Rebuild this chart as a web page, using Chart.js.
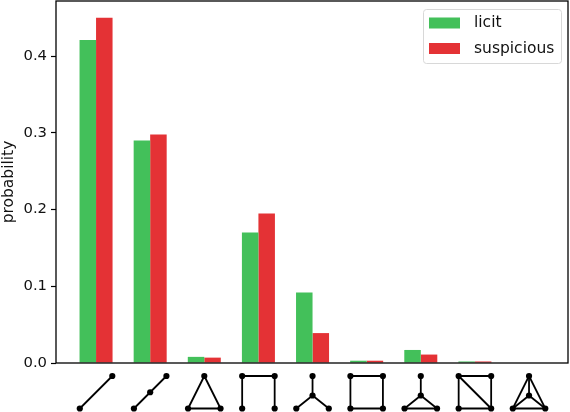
<!DOCTYPE html>
<html>
<head>
<meta charset="utf-8">
<style>html,body{margin:0;padding:0;background:#fff}canvas{display:block}</style>
<script src="https://cdn.jsdelivr.net/npm/chart.js@4/dist/chart.umd.min.js"></script>
</head>
<body>
<canvas id="c" width="570" height="412"></canvas>
<script>
const categories = [0,1,2,3,4,5,6,7,8];
const licit = [0.421,0.290,0.008,0.170,0.092,0.003,0.017,0.002,0];
const suspicious = [0.450,0.298,0.007,0.195,0.039,0.003,0.011,0.002,0];
const yTicks = [0,0.1,0.2,0.3,0.4];
// graphlet glyphs on a unit box (0..1 across, 0..1 down)
const glyphNodes = [
  [[0,1],[1,0]],
  [[0,1],[0.5,0.5],[1,0]],
  [[0.5,0],[0,1],[1,1]],
  [[0,1],[0,0],[1,0],[1,1]],
  [[0.5,0],[0.5,0.6],[0,1],[1,1]],
  [[0,0],[1,0],[1,1],[0,1]],
  [[0.5,0],[0.5,0.6],[0,1],[1,1]],
  [[0,0],[1,0],[1,1],[0,1]],
  [[0.5,0],[0.5,0.6],[0,1],[1,1]]
];
const glyphEdges = [
  [[0,1]],
  [[0,1],[1,2]],
  [[0,1],[0,2],[1,2]],
  [[0,1],[1,2],[2,3]],
  [[0,1],[1,2],[1,3]],
  [[0,1],[1,2],[2,3],[3,0]],
  [[0,1],[1,2],[1,3],[2,3]],
  [[0,1],[1,2],[2,3],[3,0],[0,2]],
  [[0,1],[1,2],[1,3],[2,3],[0,2],[0,3]]
];
const FONT = '"DejaVu Sans"';
const frameAndGlyphs = {
  id:'frameAndGlyphs',
  afterDraw(chart){
    const {ctx,chartArea:a,scales:{x}} = chart;
    ctx.save();
    ctx.strokeStyle='#000'; ctx.lineWidth=1.3;
    ctx.strokeRect(a.left,a.top,a.right-a.left,a.bottom-a.top);
    // glyphs under the axis
    const size=32.5, top=a.bottom+13;
    categories.forEach(i=>{
      const cx=x.getPixelForValue(i);
      const pt=n=>[cx-size/2+n[0]*size, top+n[1]*size];
      ctx.strokeStyle='#000'; ctx.fillStyle='#000'; ctx.lineWidth=1.8;
      glyphEdges[i].forEach(([p,q])=>{
        const A=pt(glyphNodes[i][p]),B=pt(glyphNodes[i][q]);
        ctx.beginPath();ctx.moveTo(A[0],A[1]);ctx.lineTo(B[0],B[1]);ctx.stroke();
      });
      glyphNodes[i].forEach(n=>{
        const P=pt(n);
        ctx.beginPath();ctx.arc(P[0],P[1],3.1,0,Math.PI*2);ctx.fill();
      });
    });
    // legend
    const lx=423.5, ly=9.5, lw=138, lh=54;
    ctx.beginPath();ctx.roundRect(lx,ly,lw,lh,3);
    ctx.fillStyle='rgba(255,255,255,0.8)';ctx.fill();
    ctx.strokeStyle='#d8d8d8';ctx.lineWidth=1;ctx.stroke();
    ctx.font='15.5px '+FONT;ctx.textBaseline='middle';ctx.textAlign='left';
    chart.data.datasets.forEach((d,k)=>{
      const yc=ly+13.5+k*25.5;
      ctx.fillStyle=d.backgroundColor;
      ctx.fillRect(429,yc-5.5,31,11);
      ctx.fillStyle='#111';
      ctx.fillText(d.label,474,yc);
    });
    ctx.restore();
  }
};
new Chart(document.getElementById('c'),{
  type:'bar',
  data:{datasets:[
    {label:'licit',data:categories.map(i=>({x:i,y:licit[i]})),backgroundColor:'#43c05a'},
    {label:'suspicious',data:categories.map(i=>({x:i,y:suspicious[i]})),backgroundColor:'#e43235'}
  ]},
  options:{
    responsive:false,animation:false,devicePixelRatio:1,
    layout:{padding:{top:1,right:2,left:0,bottom:0}},
    plugins:{legend:{display:false},tooltip:{enabled:false}},
    datasets:{bar:{categoryPercentage:0.61,barPercentage:1}},
    scales:{
      x:{type:'linear',offset:false,min:-0.74,max:8.72,
        grid:{display:false},border:{display:false},
        ticks:{display:false},
        afterFit(s){s.height=49;s.paddingLeft=0;s.paddingRight=0;}
      },
      y:{min:0,max:0.472,
        afterBuildTicks(s){s.ticks=yTicks.map(v=>({value:v}));},
        grid:{drawOnChartArea:false,drawTicks:true,tickLength:5,tickColor:'#000',tickWidth:1.2},
        border:{display:false},
        ticks:{color:'#111',font:{family:FONT,size:14.8},padding:4,callback:v=>v===0?'0.0':String(v)},
        title:{display:true,text:'probability',color:'#111',font:{family:FONT,size:15.5},padding:{top:0,bottom:0}},
        afterFit(s){s.width=56;s.paddingTop=0;s.paddingBottom=0;}
      }
    }
  },
  plugins:[frameAndGlyphs]
});
</script>
</body>
</html>
